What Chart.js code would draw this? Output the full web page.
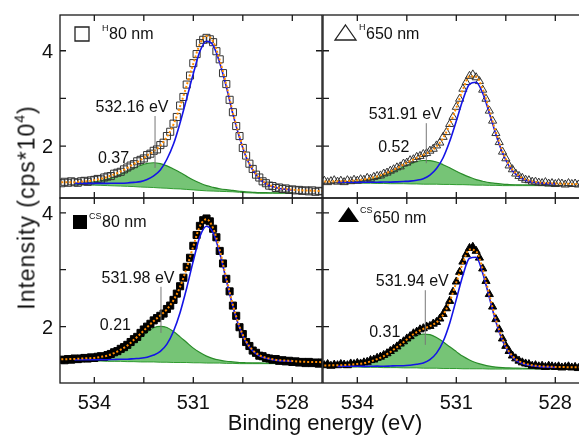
<!DOCTYPE html>
<html>
<head>
<meta charset="utf-8">
<script src="https://cdn.jsdelivr.net/npm/chart.js@4.4.1/dist/chart.umd.min.js"></script>
<style>
body { margin: 0; background: #fff; }
#page { position: relative; width: 579px; height: 435px; overflow: hidden; background: #fff;
        font-family: "Liberation Sans", Arial, sans-serif; color: #111; }
canvas { position: absolute; }
#ytitle { position: absolute; left: -88px; top: 196px; width: 230px; height: 23px; line-height: 23px;
          font-size: 23px; letter-spacing: 1px; text-align: center; white-space: nowrap; transform: rotate(-90deg); }
#ytitle sup { font-size: 14px; vertical-align: 10px; line-height: 0; }
#xtitle { position: absolute; left: 205px; top: 412px; width: 240px; line-height: 22px;
          font-size: 22px; text-align: center; white-space: nowrap; }
</style>
</head>
<body>
<div id="page">
  <canvas id="h80" width="323" height="200" style="left:0px;top:0px"></canvas>
  <canvas id="h650" width="264" height="200" style="left:322px;top:0px"></canvas>
  <canvas id="cs80" width="323" height="238" style="left:0px;top:197px"></canvas>
  <canvas id="cs650" width="264" height="238" style="left:322px;top:197px"></canvas>
  <div id="ytitle">Intensity (cps*10<sup>4</sup>)</div>
  <div id="xtitle">Binding energy (eV)</div>
</div>
<script>
// axes
const xTicks = [534, 532.5, 531, 529.5, 528];
const xLabels = [534, 531, 528];
const yTicks = [2, 3, 4];
const yLabels = [2, 4];

// binding energy grids (eV)
const dataEnergy = [
  535.0, 534.9, 534.8, 534.7, 534.6, 534.5, 534.4, 534.3, 534.2, 534.1,
  534.0, 533.9, 533.8, 533.7, 533.6, 533.5, 533.4, 533.3, 533.2, 533.1,
  533.0, 532.9, 532.8, 532.7, 532.6, 532.5, 532.4, 532.3, 532.2, 532.1,
  532.0, 531.9, 531.8, 531.7, 531.6, 531.5, 531.4, 531.3, 531.2, 531.1,
  531.0, 530.9, 530.8, 530.7, 530.6, 530.5, 530.4, 530.3, 530.2, 530.1,
  530.0, 529.9, 529.8, 529.7, 529.6, 529.5, 529.4, 529.3, 529.2, 529.1,
  529.0, 528.9, 528.8, 528.7, 528.6, 528.5, 528.4, 528.3, 528.2, 528.1,
  528.0, 527.9, 527.8, 527.7, 527.6, 527.5, 527.4, 527.3, 527.2, 527.1
];
const envEnergy = [
  535.0, 534.8, 534.6, 534.4, 534.2, 534.0, 533.8, 533.6, 533.4, 533.2,
  533.0, 532.8, 532.6, 532.4, 532.2, 532.0, 531.8, 531.6, 531.4, 531.2,
  531.0, 530.8, 530.6, 530.4, 530.2, 530.0, 529.8, 529.6, 529.4, 529.2,
  529.0, 528.8, 528.6, 528.4, 528.2, 528.0, 527.8, 527.6, 527.4, 527.2, 527.0
];
const fitEnergy = [
  534.6, 534.4, 534.2, 534.0, 533.8, 533.6, 533.4, 533.2, 533.0, 532.8,
  532.6, 532.4, 532.2, 532.0, 531.8, 531.6, 531.4, 531.2, 531.0, 530.8,
  530.6, 530.4, 530.2, 530.0, 529.8, 529.6, 529.4, 529.2, 529.0, 528.8,
  528.6, 528.4, 528.2, 528.0
];

// shoulder component
const shoulderPeaks = [532.16, 531.91, 531.98, 531.94];
const shoulderRatios = ['0.37', '0.52', '0.21', '0.31'];

// H 80 nm
const h80Counts = [
  1.22, 1.25, 1.23, 1.26, 1.24, 1.23, 1.26, 1.27, 1.25, 1.28,
  1.29, 1.31, 1.30, 1.34, 1.36, 1.37, 1.42, 1.44, 1.46, 1.51,
  1.55, 1.59, 1.62, 1.68, 1.71, 1.74, 1.81, 1.84, 1.90, 1.93,
  2.02, 2.07, 2.21, 2.30, 2.47, 2.61, 2.85, 3.03, 3.29, 3.48,
  3.74, 3.93, 4.16, 4.23, 4.27, 4.24, 4.18, 3.99, 3.82, 3.53,
  3.30, 2.97, 2.71, 2.42, 2.21, 1.96, 1.80, 1.63, 1.52, 1.40,
  1.34, 1.26, 1.22, 1.17, 1.16, 1.12, 1.13, 1.10, 1.11, 1.08,
  1.09, 1.07, 1.08, 1.06, 1.07, 1.05, 1.07, 1.04, 1.06, 1.05
];
const h80Fit = [
  1.24, 1.24, 1.242, 1.252, 1.264, 1.285, 1.313, 1.353, 1.405, 1.468,
  1.543, 1.627, 1.705, 1.799, 1.893, 2.008, 2.193, 2.454, 2.835, 3.274,
  3.728, 4.144, 4.309, 4.194, 3.804, 3.284, 2.699, 2.202, 1.787, 1.51,
  1.333, 1.216, 1.159, 1.119, 1.10, 1.084, 1.074, 1.067, 1.064, 1.058, 1.055
];
const h80Main = [
  1.217, 1.218, 1.216, 1.216, 1.216, 1.217, 1.219, 1.22, 1.226, 1.238,
  1.253, 1.299, 1.373, 1.498, 1.723, 2.041, 2.49, 3.00, 3.52, 3.99,
  4.20, 4.115, 3.75, 3.245, 2.67, 2.18, 1.77, 1.495, 1.32, 1.205,
  1.149, 1.11, 1.092, 1.076
];
const h80Shoulder = [
  1.215, 1.224, 1.233, 1.249, 1.272, 1.306, 1.351, 1.408, 1.472, 1.539,
  1.592, 1.635, 1.65, 1.63, 1.585, 1.518, 1.445, 1.364, 1.288, 1.224,
  1.169, 1.134, 1.104, 1.084, 1.069, 1.052, 1.037, 1.03, 1.023, 1.021,
  1.02, 1.019, 1.018, 1.018
];
const h80Bg = [
  1.19, 1.19, 1.185, 1.18, 1.175, 1.17, 1.165, 1.16, 1.155, 1.15,
  1.14, 1.135, 1.13, 1.12, 1.115, 1.105, 1.10, 1.09, 1.08, 1.07,
  1.06, 1.055, 1.05, 1.045, 1.04, 1.03, 1.02, 1.015, 1.01, 1.01,
  1.01, 1.01, 1.01, 1.01
];

// H 650 nm
const h650Counts = [
  1.27, 1.24, 1.26, 1.28, 1.25, 1.27, 1.24, 1.28, 1.26, 1.29,
  1.27, 1.30, 1.29, 1.33, 1.31, 1.35, 1.37, 1.38, 1.42, 1.44,
  1.48, 1.51, 1.55, 1.57, 1.63, 1.65, 1.70, 1.72, 1.77, 1.79,
  1.83, 1.85, 1.90, 1.94, 2.01, 2.07, 2.19, 2.29, 2.46, 2.61,
  2.82, 2.99, 3.20, 3.34, 3.47, 3.50, 3.44, 3.36, 3.18, 2.99,
  2.74, 2.53, 2.27, 2.08, 1.88, 1.74, 1.59, 1.51, 1.42, 1.37,
  1.33, 1.29, 1.28, 1.25, 1.25, 1.23, 1.22, 1.24, 1.21, 1.22,
  1.20, 1.22, 1.21, 1.19, 1.22, 1.20, 1.21, 1.19, 1.21, 1.20
];
const h650Fit = [
  1.256, 1.258, 1.262, 1.263, 1.271, 1.28, 1.299, 1.326, 1.362, 1.412,
  1.466, 1.537, 1.612, 1.683, 1.753, 1.813, 1.885, 1.992, 2.168, 2.448,
  2.806, 3.186, 3.463, 3.456, 3.192, 2.752, 2.286, 1.89, 1.603, 1.428,
  1.327, 1.275, 1.246, 1.229, 1.221, 1.215, 1.21, 1.207, 1.204, 1.202, 1.20
];
const h650Main = [
  1.244, 1.24, 1.241, 1.238, 1.24, 1.242, 1.241, 1.245, 1.244, 1.249,
  1.256, 1.264, 1.283, 1.316, 1.39, 1.527, 1.755, 2.10, 2.526, 2.97,
  3.30, 3.34, 3.11, 2.695, 2.245, 1.86, 1.58, 1.41, 1.312, 1.262,
  1.235, 1.219, 1.211, 1.206
];
const h650Shoulder = [
  1.248, 1.248, 1.255, 1.262, 1.279, 1.304, 1.336, 1.382, 1.432, 1.498,
  1.566, 1.624, 1.675, 1.697, 1.695, 1.665, 1.608, 1.543, 1.47, 1.406,
  1.348, 1.296, 1.262, 1.232, 1.216, 1.20, 1.193, 1.188, 1.185, 1.183,
  1.181, 1.18, 1.18, 1.179
];
const h650Bg = [
  1.23, 1.225, 1.225, 1.22, 1.22, 1.22, 1.215, 1.215, 1.21, 1.21,
  1.21, 1.205, 1.205, 1.20, 1.20, 1.20, 1.195, 1.195, 1.19, 1.19,
  1.185, 1.18, 1.18, 1.175, 1.175, 1.17, 1.17, 1.17, 1.17, 1.17,
  1.17, 1.17, 1.17, 1.17
];

// CS 80 nm
const cs80Counts = [
  1.42, 1.41, 1.43, 1.42, 1.44, 1.43, 1.44, 1.45, 1.44, 1.46,
  1.45, 1.47, 1.48, 1.47, 1.50, 1.52, 1.55, 1.57, 1.61, 1.64,
  1.68, 1.73, 1.78, 1.82, 1.89, 1.95, 2.00, 2.05, 2.11, 2.15,
  2.19, 2.23, 2.31, 2.37, 2.47, 2.58, 2.71, 2.86, 3.05, 3.21,
  3.42, 3.61, 3.77, 3.87, 3.90, 3.85, 3.72, 3.57, 3.33, 3.11,
  2.84, 2.62, 2.37, 2.19, 1.99, 1.87, 1.73, 1.66, 1.58, 1.54,
  1.49, 1.48, 1.45, 1.44, 1.42, 1.43, 1.40, 1.41, 1.39, 1.40,
  1.38, 1.39, 1.37, 1.38, 1.36, 1.38, 1.36, 1.37, 1.35, 1.37
];
const cs80Fit = [
  1.426, 1.429, 1.433, 1.439, 1.445, 1.451, 1.469, 1.491, 1.536, 1.596,
  1.667, 1.768, 1.875, 1.989, 2.10, 2.195, 2.303, 2.464, 2.70, 3.031,
  3.413, 3.765, 3.887, 3.729, 3.347, 2.852, 2.381, 2.00, 1.742, 1.587,
  1.499, 1.455, 1.428, 1.412, 1.405, 1.398, 1.386, 1.381, 1.379, 1.377, 1.374
];
const cs80Main = [
  1.417, 1.419, 1.42, 1.418, 1.42, 1.419, 1.424, 1.428, 1.428, 1.437,
  1.445, 1.464, 1.50, 1.565, 1.693, 1.92, 2.25, 2.68, 3.155, 3.585,
  3.765, 3.65, 3.295, 2.815, 2.355, 1.98, 1.726, 1.574, 1.487, 1.444,
  1.418, 1.403, 1.396, 1.39
];
const cs80Shoulder = [
  1.416, 1.42, 1.425, 1.428, 1.444, 1.462, 1.502, 1.558, 1.624, 1.716,
  1.81, 1.905, 1.98, 2.005, 1.985, 1.914, 1.82, 1.721, 1.623, 1.545,
  1.482, 1.439, 1.412, 1.392, 1.381, 1.37, 1.366, 1.363, 1.362, 1.361,
  1.36, 1.359, 1.359, 1.358
];
const cs80Bg = [
  1.40, 1.40, 1.40, 1.395, 1.395, 1.39, 1.39, 1.39, 1.385, 1.385,
  1.38, 1.38, 1.38, 1.375, 1.375, 1.37, 1.37, 1.37, 1.365, 1.365,
  1.36, 1.36, 1.36, 1.355, 1.355, 1.35, 1.35, 1.35, 1.35, 1.35,
  1.35, 1.35, 1.35, 1.35
];

// CS 650 nm
const cs650Counts = [
  1.32, 1.34, 1.31, 1.33, 1.32, 1.34, 1.33, 1.32, 1.35, 1.34,
  1.36, 1.35, 1.37, 1.38, 1.41, 1.42, 1.45, 1.47, 1.50, 1.53,
  1.57, 1.61, 1.65, 1.70, 1.74, 1.79, 1.83, 1.88, 1.91, 1.95,
  1.97, 2.00, 2.01, 2.05, 2.08, 2.14, 2.22, 2.32, 2.45, 2.61,
  2.79, 2.96, 3.14, 3.27, 3.38, 3.40, 3.33, 3.21, 3.02, 2.80,
  2.57, 2.35, 2.13, 1.95, 1.79, 1.66, 1.57, 1.49, 1.44, 1.40,
  1.37, 1.35, 1.34, 1.31, 1.32, 1.30, 1.31, 1.29, 1.31, 1.30,
  1.29, 1.30, 1.28, 1.29, 1.30, 1.28, 1.29, 1.27, 1.29, 1.28
];
const cs650Fit = [
  1.318, 1.32, 1.32, 1.325, 1.333, 1.345, 1.359, 1.388, 1.43, 1.482,
  1.554, 1.639, 1.727, 1.822, 1.905, 1.96, 2.01, 2.075, 2.207, 2.441,
  2.775, 3.122, 3.356, 3.324, 3.012, 2.562, 2.122, 1.781, 1.56, 1.431,
  1.367, 1.333, 1.314, 1.303, 1.299, 1.293, 1.29, 1.288, 1.286, 1.284, 1.283
];
const cs650Main = [
  1.302, 1.303, 1.304, 1.305, 1.302, 1.303, 1.306, 1.304, 1.308, 1.313,
  1.313, 1.322, 1.339, 1.362, 1.42, 1.535, 1.739, 2.061, 2.479, 2.904,
  3.202, 3.218, 2.94, 2.512, 2.087, 1.755, 1.54, 1.414, 1.353, 1.321,
  1.303, 1.293, 1.289, 1.284
];
const cs650Shoulder = [
  1.308, 1.312, 1.319, 1.33, 1.342, 1.37, 1.409, 1.458, 1.526, 1.606,
  1.689, 1.775, 1.841, 1.868, 1.86, 1.81, 1.733, 1.645, 1.561, 1.478,
  1.414, 1.366, 1.332, 1.305, 1.29, 1.281, 1.275, 1.272, 1.269, 1.267,
  1.266, 1.265, 1.265, 1.264
];
const cs650Bg = [
  1.29, 1.29, 1.29, 1.29, 1.285, 1.285, 1.285, 1.28, 1.28, 1.28,
  1.275, 1.275, 1.275, 1.27, 1.27, 1.27, 1.265, 1.265, 1.265, 1.26,
  1.26, 1.26, 1.26, 1.255, 1.255, 1.255, 1.255, 1.255, 1.255, 1.255,
  1.255, 1.255, 1.255, 1.255
];

const FONT = '"Liberation Sans", Arial, sans-serif';
const pts = (xs, ys) => xs.map((x, i) => ({ x: x, y: ys[i] }));

// frame, inward ticks, tick labels, peak marker and the little legend of each panel
const panelDeco = {
  id: 'panelDeco',
  afterDatasetsDraw(chart, args, o) {
    const ctx = chart.ctx, a = chart.chartArea;
    const x = chart.scales.x, y = chart.scales.y;
    ctx.save();
    ctx.strokeStyle = '#1a1a1a';
    ctx.lineWidth = 1.3;
    ctx.strokeRect(a.left, a.top, a.right - a.left, a.bottom - a.top);
    ctx.beginPath();
    xTicks.forEach(v => {
      const px = x.getPixelForValue(v);
      ctx.moveTo(px, a.bottom); ctx.lineTo(px, a.bottom - 6);
      ctx.moveTo(px, a.top); ctx.lineTo(px, a.top + 6);
    });
    yTicks.forEach(v => {
      const py = y.getPixelForValue(v);
      ctx.moveTo(a.left, py); ctx.lineTo(a.left + 6, py);
      ctx.moveTo(a.right, py); ctx.lineTo(a.right - 6, py);
    });
    ctx.stroke();

    ctx.fillStyle = '#111';
    ctx.font = '20px ' + FONT;
    ctx.textBaseline = 'alphabetic';
    if (o.xLabels) {
      ctx.textAlign = 'center';
      xLabels.forEach(v => ctx.fillText(String(v), x.getPixelForValue(v), a.bottom + 26));
    }
    if (o.yLabels) {
      ctx.textAlign = 'right';
      yLabels.forEach(v => ctx.fillText(String(v), a.left - 7, y.getPixelForValue(v) + 7.2));
    }

    // shoulder position
    const lx = x.getPixelForValue(o.peak);
    const t = y.getPixelForValue(o.lineTop), b = y.getPixelForValue(o.lineBottom);
    ctx.strokeStyle = '#777';
    ctx.lineWidth = 1;
    ctx.beginPath(); ctx.moveTo(lx, t); ctx.lineTo(lx, b); ctx.stroke();
    ctx.font = '16px ' + FONT;
    ctx.textAlign = 'center';
    ctx.fillText(o.peak.toFixed(2) + ' eV', lx + o.textDx, t - 4);
    ctx.textAlign = 'right';
    ctx.fillText(o.ratio, lx + o.ratioDx, y.getPixelForValue(o.ratioAt));

    // legend
    const lg = o.legend;
    const mx = a.left + lg.dx, my = a.top + lg.dy;
    ctx.lineWidth = 1.3;
    ctx.strokeStyle = '#222';
    ctx.fillStyle = '#000';
    ctx.beginPath();
    if (lg.shape === 'square') {
      ctx.rect(mx, my, 14, 14);
    } else {
      ctx.moveTo(mx + 10.5, my); ctx.lineTo(mx + 21, my + 15); ctx.lineTo(mx, my + 15); ctx.closePath();
    }
    if (lg.filled) ctx.fill(); else ctx.stroke();
    ctx.fillStyle = '#111';
    ctx.textAlign = 'left';
    ctx.font = '9px ' + FONT;
    const sx = a.left + lg.supX;
    ctx.fillText(lg.sup, sx, a.top + lg.supY);
    const sw = ctx.measureText(lg.sup).width;
    ctx.font = '16px ' + FONT;
    ctx.fillText(lg.text, sx + sw + 0.5, a.top + lg.textY);
    ctx.restore();
  }
};

function panel(id, p) {
  const datasets = [
    {
      label: 'envelope',
      data: pts(envEnergy, p.fit),
      borderColor: '#ff8c00',
      borderWidth: 2,
      borderDash: [2, 2],
      pointRadius: 0,
      cubicInterpolationMode: 'monotone',
      fill: false,
      order: 0
    },
    {
      label: 'main',
      data: pts(fitEnergy, p.main),
      borderColor: '#1414e6',
      borderWidth: 1.6,
      pointRadius: 0,
      cubicInterpolationMode: 'monotone',
      fill: false,
      order: 1
    },
    {
      label: 'counts',
      data: pts(dataEnergy, p.counts),
      showLine: false,
      pointStyle: p.marker,
      pointRadius: p.radius,
      pointBorderWidth: 1,
      pointBorderColor: p.filled ? '#000' : '#333',
      pointBackgroundColor: p.filled ? '#000' : 'rgba(255,255,255,0)',
      order: 2
    },
    {
      label: 'shoulder',
      data: pts(fitEnergy, p.shoulder),
      borderColor: '#2a8c2a',
      borderWidth: 1.2,
      backgroundColor: 'rgba(34,160,34,0.62)',
      pointRadius: 0,
      cubicInterpolationMode: 'monotone',
      fill: '+1',
      order: 3
    },
    {
      label: 'background',
      data: pts(fitEnergy, p.bg),
      borderColor: '#3a9a3a',
      borderWidth: 1,
      pointRadius: 0,
      fill: false,
      order: 4
    }
  ];

  const config = {
    type: 'line',
    data: { datasets: datasets },
    options: {
      responsive: false,
      animation: false,
      devicePixelRatio: 1,
      layout: { padding: p.pad, autoPadding: false },
      plugins: {
        legend: { display: false },
        tooltip: { enabled: false },
        panelDeco: p.deco
      },
      scales: {
        x: { type: 'linear', reverse: true, min: 527.1, max: 535.04, display: false },
        y: { type: 'linear', min: p.ymin, max: p.ymax, display: false }
      }
    },
    plugins: [panelDeco]
  };

  return new Chart(document.getElementById(id), config);
}

panel('h80', {
  counts: h80Counts, fit: h80Fit, main: h80Main, shoulder: h80Shoulder, bg: h80Bg,
  marker: 'rect', radius: 5, filled: false, ymin: 0.91, ymax: 4.75,
  pad: { left: 60, top: 15, right: 1, bottom: 2 },
  deco: {
    xLabels: false, yLabels: true,
    peak: shoulderPeaks[0], ratio: shoulderRatios[0],
    lineTop: 2.63, lineBottom: 1.54, textDx: -23, ratioDx: -26, ratioAt: 1.64,
    legend: { shape: 'square', filled: false, dx: 15, dy: 12, sup: 'H', supX: 42, supY: 16, text: '80 nm', textY: 24 }
  }
});

panel('h650', {
  counts: h650Counts, fit: h650Fit, main: h650Main, shoulder: h650Shoulder, bg: h650Bg,
  marker: 'triangle', radius: 4.7, filled: false, ymin: 0.91, ymax: 4.75,
  pad: { left: 1, top: 15, right: 1, bottom: 2 },
  deco: {
    xLabels: false, yLabels: false,
    peak: shoulderPeaks[1], ratio: shoulderRatios[1],
    lineTop: 2.48, lineBottom: 1.64, textDx: -21, ratioDx: -17, ratioAt: 1.87,
    legend: { shape: 'triangle', filled: false, dx: 12, dy: 10, sup: 'H', supX: 36, supY: 15, text: '650 nm', textY: 24 }
  }
});

panel('cs80', {
  counts: cs80Counts, fit: cs80Fit, main: cs80Main, shoulder: cs80Shoulder, bg: cs80Bg,
  marker: 'rect', radius: 5, filled: true, ymin: 1.01, ymax: 4.26,
  pad: { left: 60, top: 1, right: 1, bottom: 52 },
  deco: {
    xLabels: true, yLabels: true,
    peak: shoulderPeaks[2], ratio: shoulderRatios[2],
    lineTop: 2.70, lineBottom: 1.89, textDx: -23, ratioDx: -30, ratioAt: 1.94,
    legend: { shape: 'square', filled: true, dx: 13, dy: 17, sup: 'CS', supX: 29, supY: 21, text: '80 nm', textY: 29 }
  }
});

panel('cs650', {
  counts: cs650Counts, fit: cs650Fit, main: cs650Main, shoulder: cs650Shoulder, bg: cs650Bg,
  marker: 'triangle', radius: 4.7, filled: true, ymin: 1.01, ymax: 4.26,
  pad: { left: 1, top: 1, right: 1, bottom: 52 },
  deco: {
    xLabels: true, yLabels: false,
    peak: shoulderPeaks[3], ratio: shoulderRatios[3],
    lineTop: 2.64, lineBottom: 1.68, textDx: -13, ratioDx: -25, ratioAt: 1.82,
    legend: { shape: 'triangle', filled: true, dx: 15, dy: 9, sup: 'CS', supX: 37, supY: 15, text: '650 nm', textY: 25 }
  }
});
</script>
</body>
</html>
